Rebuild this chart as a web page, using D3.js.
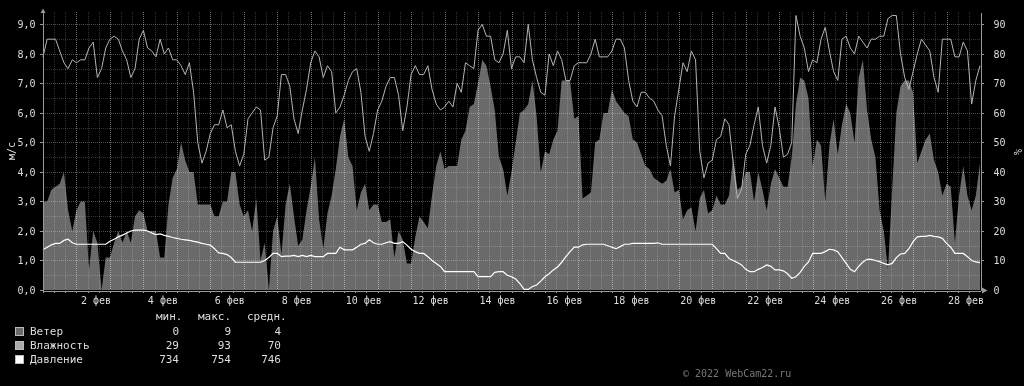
<!DOCTYPE html>
<html>
<head>
<meta charset="utf-8">
<script src="https://cdn.jsdelivr.net/npm/d3@7"></script>
<style>
  body { margin: 0; background: #000; }
  svg { display: block; font-family: "DejaVu Sans Mono", monospace; filter: grayscale(1); }
</style>
</head>
<body>
<div id="chart"></div>
<script>
// time range: one sample every 3 hours, 1 Feb .. 1 Mar
var start = new Date(2022, 1, 1),
    end = new Date(2022, 2, 1),
    stepHours = 3;

// wind, m/s
var wind = [
  3.0,3.0,3.4,3.5,3.6,4.0,2.7,2.0,2.7,3.0,
  3.0,0.7,2.0,1.6,0,1.1,1.1,1.6,2.0,1.6,
  2.0,1.6,2.5,2.7,2.6,2.0,2.0,2.0,1.1,1.1,
  2.9,3.8,4.1,5.0,4.4,4.0,4.0,2.9,2.9,2.9,
  2.9,2.5,2.5,3.0,3.0,4.0,4.0,2.9,2.5,2.7,
  2.0,3.1,1.0,1.6,0,2.0,2.5,1.2,2.9,3.6,
  2.5,1.5,1.7,2.7,3.5,4.5,2.4,1.4,2.6,3.2,
  4.1,5.2,5.8,4.5,4.2,2.7,3.3,3.6,2.7,2.9,
  2.9,2.3,2.3,2.4,1.1,2.0,1.7,0.9,0.9,1.8,
  2.5,2.3,2.1,3.2,4.2,4.7,4.1,4.2,4.2,4.2,
  5.1,5.4,6.2,6.3,7.0,7.8,7.6,6.9,6.1,4.5,
  4.1,3.2,4.0,5.0,6.0,6.1,6.3,7.1,5.9,4.0,
  4.7,4.6,5.1,5.4,7.1,7.1,7.1,5.8,5.9,3.1,
  3.2,3.3,5.0,5.1,6.0,6.0,6.8,6.4,6.2,6.0,
  5.9,5.1,5.0,4.6,4.2,4.1,3.8,3.7,3.6,3.7,
  4.1,3.3,3.4,2.4,2.7,2.8,2.0,3.1,3.4,2.6,
  2.7,3.2,2.9,2.9,3.2,4.5,3.4,3.5,4.0,4.0,
  3.0,4.0,3.4,2.7,3.6,4.1,3.8,3.5,3.5,4.5,
  6.3,7.2,7.1,6.5,4.2,5.1,4.9,3.0,4.9,5.8,
  4.6,5.6,6.3,6.0,5.0,7.2,7.8,6.1,5.1,4.5,
  2.7,2.0,0.7,3.4,6.0,6.9,7.1,7.1,6.7,4.3,
  4.7,5.1,5.3,4.4,4.0,3.2,3.6,3.5,1.6,3.2,
  4.2,3.2,2.7,3.2,4.3
];

// humidity, %
var humidity = [
  79,85,85,85,81,77,75,78,77,78,
  78,82,84,72,75,82,85,86,85,81,
  78,72,75,85,88,82,81,79,85,80,
  82,78,78,76,73,77,67,50,43,47,
  53,56,56,61,55,56,47,42,46,58,
  60,62,61,44,45,55,59,73,73,69,
  58,53,61,68,77,81,79,72,76,74,
  60,62,66,71,74,75,67,52,47,53,
  61,64,69,72,72,66,54,62,73,76,
  73,73,76,68,63,61,62,64,62,70,
  67,77,76,75,88,90,86,86,78,77,
  80,88,75,79,79,77,90,78,72,67,
  66,80,76,81,78,71,71,76,77,77,
  77,80,85,79,79,79,81,85,85,82,
  71,64,62,67,67,65,64,61,59,49,
  42,59,68,77,74,81,78,47,38,43,
  44,51,52,58,56,43,31,34,46,49,
  56,62,49,43,49,62,55,45,46,50,
  93,86,82,74,78,77,85,89,81,74,
  71,85,86,82,80,86,84,82,85,85,
  86,86,92,93,93,80,72,68,74,80,
  85,83,81,72,67,85,85,85,79,79,
  84,81,63,71,76
];

// pressure, mm Hg (drawn as (p - 734) / 10 on the left axis)
var pressure = [
  747.6,748.5,749.3,749.8,749.8,750.8,751.2,750.0,749.5,749.5,
  749.5,749.5,749.5,749.5,749.5,749.5,750.5,751.2,752.0,752.6,
  753.3,754.0,754.3,754.3,754.3,754.0,753.3,752.8,753.0,752.5,
  752.2,751.8,751.5,751.2,751.0,750.8,750.5,750.2,749.8,749.5,
  749.2,748.0,746.6,746.4,746.0,745.0,743.4,743.4,743.4,743.4,
  743.4,743.4,743.4,744.0,745.0,746.4,746.4,745.3,745.5,745.5,
  745.7,745.3,745.7,745.3,745.7,745.3,745.3,745.3,746.4,746.4,
  746.4,748.5,747.6,747.6,747.6,748.5,749.5,749.8,751.0,750.0,
  749.5,749.5,750.0,750.4,749.8,749.8,750.4,749.2,747.8,747.0,
  746.4,746.4,745.3,744.0,743.0,742.0,740.2,740.2,740.2,740.2,
  740.2,740.2,740.2,740.2,738.5,738.5,738.5,738.5,740.0,740.2,
  740.2,739.0,738.5,737.7,736.2,734.2,734.2,735.2,735.7,737.0,
  738.5,739.5,740.8,741.8,743.4,745.3,747.0,748.5,748.5,749.3,
  749.5,749.5,749.5,749.5,749.5,749.0,748.5,748.0,748.7,749.5,
  749.5,749.8,749.8,749.8,749.8,749.8,749.8,750.0,749.5,749.5,
  749.5,749.5,749.5,749.5,749.5,749.5,749.5,749.5,749.5,749.5,
  749.5,748.0,746.4,746.4,744.7,744.0,743.3,742.5,741.0,740.2,
  740.2,741.0,741.6,742.5,742.0,740.8,740.8,740.5,739.5,738.0,
  738.5,740.0,742.0,743.5,746.4,746.4,746.4,747.0,747.8,747.6,
  747.0,745.0,743.0,741.0,740.2,742.0,743.5,744.4,744.4,744.0,
  743.6,743.0,742.5,743.0,745.0,746.2,746.4,748.0,750.4,752.0,
  752.2,752.2,752.5,752.2,752.0,751.5,749.8,748.5,746.4,746.4,
  746.4,745.3,744.0,743.5,743.3
];

var labelDays = [2,4,6,8,10,12,14,16,18,20,22,24,26,28];
var monthName = "фев";
var leftTicks = [0,1,2,3,4,5,6,7,8,9];
var rightTicks = [0,10,20,30,40,50,60,70,80,90];

var seriesNames = ["Ветер", "Влажность", "Давление"];
var statHeaders = ["мин.", "макс.", "средн."];
var statMin = [0, 29, 734];
var statMax = [9, 93, 754];
var statAvg = [4, 70, 746];

var width = 1024, height = 386;
var plot = {left: 43, right: 980, top: 12, bottom: 290};
var yMax = 9.42;

var svg = d3.select("#chart")
  .append("svg")
    .attr("width", width)
    .attr("height", height);

svg.append("rect").attr("width", width).attr("height", height).attr("fill", "#000");

var times = wind.map(function(d, i) { return d3.timeHour.offset(start, i * stepHours); });

var x = d3.scaleTime().domain([start, end]).range([plot.left, plot.right]);
var y = d3.scaleLinear().domain([0, yMax]).range([plot.bottom, plot.top]);
var yHum = d3.scaleLinear().domain([0, yMax * 10]).range([plot.bottom, plot.top]);
var yPres = d3.scaleLinear().domain([734, 734 + yMax * 10]).range([plot.bottom, plot.top]);

// wind area
svg.append("path")
  .datum(wind)
  .attr("fill", "#6a6a6a")
  .attr("d", d3.area()
    .x(function(d, i) { return x(times[i]); })
    .y0(y(0))
    .y1(function(d) { return y(d); }));

// grid (drawn over the area, like the original)
var grid = svg.append("g").attr("shape-rendering", "crispEdges");
var minorX = d3.timeHour.every(8).range(start, end);
var majorX = d3.timeDay.range(start, end);

grid.selectAll(".vminor").data(minorX).enter().append("line")
  .attr("x1", function(d) { return Math.round(x(d)) + 0.5; })
  .attr("x2", function(d) { return Math.round(x(d)) + 0.5; })
  .attr("y1", plot.top).attr("y2", plot.bottom)
  .attr("stroke", "rgba(255,255,255,0.2)")
  .attr("stroke-dasharray", "1,1");

grid.selectAll(".vmajor").data(majorX).enter().append("line")
  .attr("x1", function(d) { return Math.round(x(d)) + 0.5; })
  .attr("x2", function(d) { return Math.round(x(d)) + 0.5; })
  .attr("y1", plot.top).attr("y2", plot.bottom)
  .attr("stroke", "rgba(255,255,255,0.3)")
  .attr("stroke-dasharray", "1,1");

grid.selectAll(".h").data(d3.range(0.5, 9.5, 0.5)).enter().append("line")
  .attr("x1", plot.left).attr("x2", plot.right)
  .attr("y1", function(d) { return Math.round(y(d)) + 0.5; })
  .attr("y2", function(d) { return Math.round(y(d)) + 0.5; })
  .attr("stroke", function(d) { return d % 1 === 0 ? "rgba(255,255,255,0.3)" : "rgba(255,255,255,0.2)"; })
  .attr("stroke-dasharray", "1,1");

// humidity line
svg.append("path")
  .datum(humidity)
  .attr("fill", "none")
  .attr("stroke", "#b4b4b4")
  .attr("stroke-width", 1)
  .attr("d", d3.line()
    .x(function(d, i) { return x(times[i]); })
    .y(function(d) { return yHum(d); }));

// pressure line
svg.append("path")
  .datum(pressure)
  .attr("fill", "none")
  .attr("stroke", "#fff")
  .attr("stroke-width", 1.2)
  .attr("d", d3.line()
    .x(function(d, i) { return x(times[i]); })
    .y(function(d) { return yPres(d); }));

// axes
var axisColor = "#999", textColor = "#ddd";
function styleAxis(g) {
  g.selectAll(".domain, line").attr("stroke", axisColor).attr("shape-rendering", "crispEdges");
  g.selectAll("text").attr("fill", textColor).attr("font-size", 10)
    .attr("font-family", "DejaVu Sans Mono, monospace");
}

svg.append("g")
  .attr("transform", "translate(" + (plot.left - 0.5) + ",0)")
  .call(d3.axisLeft(y).tickValues(leftTicks).tickSize(3).tickSizeOuter(0).tickPadding(4)
    .tickFormat(function(d) { return d3.format(".1f")(d).replace(".", ","); }))
  .call(styleAxis);

svg.append("g")
  .attr("transform", "translate(" + (plot.right + 0.5) + ",0)")
  .call(d3.axisRight(yHum).tickValues(rightTicks).tickSize(3).tickSizeOuter(0).tickPadding(10))
  .call(styleAxis);

svg.append("g")
  .attr("transform", "translate(0," + (plot.bottom + 0.5) + ")")
  .call(d3.axisBottom(x).tickValues(minorX).tickSize(2).tickSizeOuter(0).tickFormat(""))
  .call(styleAxis);

// x labels
svg.append("g")
  .selectAll("text").data(labelDays).enter().append("text")
  .attr("x", function(d) { return x(d3.timeHour.offset(new Date(2022, 1, d), 14)); })
  .attr("y", 303.5)
  .attr("text-anchor", "middle")
  .attr("font-size", 10)
  .attr("fill", textColor)
  .text(function(d) { return d + " " + monthName; });

// axis arrows
svg.append("path").attr("d", "M40.5,13L45.5,13L43,8.5Z").attr("fill", axisColor);
svg.append("path").attr("d", "M982,287.5L982,293.5L987.5,290.5Z").attr("fill", axisColor);

// axis titles
svg.append("text")
  .attr("transform", "translate(15,151) rotate(-90)")
  .attr("text-anchor", "middle").attr("font-size", 10).attr("fill", textColor)
  .text("м/с");
svg.append("text")
  .attr("transform", "translate(1014,152) rotate(90)")
  .attr("text-anchor", "middle").attr("font-size", 10).attr("fill", textColor)
  .text("%");

// legend
var legendColors = ["#6a6a6a", "#aaaaaa", "#ffffff"];
var legend = svg.append("g").attr("font-size", 11).attr("fill", textColor);
var headerX = [156, 198, 247];
legend.selectAll(".hdr").data(statHeaders).enter().append("text")
  .attr("x", function(d, i) { return headerX[i]; })
  .attr("y", 320)
  .text(function(d) { return d; });

var rows = legend.selectAll(".row").data(seriesNames).enter().append("g")
  .attr("transform", function(d, i) { return "translate(0," + (334.5 + i * 14) + ")"; });
rows.append("rect")
  .attr("x", 15.5).attr("y", -7.5).attr("width", 8).attr("height", 8)
  .attr("fill", function(d, i) { return legendColors[i]; })
  .attr("stroke", "#bbb").attr("stroke-width", 1)
  .attr("shape-rendering", "crispEdges");
rows.append("text").attr("x", 30).text(function(d) { return d; });
var statCols = [[statMin, 179], [statMax, 231], [statAvg, 281]];
statCols.forEach(function(c) {
  rows.append("text")
    .attr("x", c[1]).attr("text-anchor", "end")
    .text(function(d, i) { return c[0][i]; });
});

svg.append("text")
  .attr("x", 683).attr("y", 377)
  .attr("font-size", 10).attr("fill", "#777")
  .text("© 2022 WebCam22.ru");
</script>
</body>
</html>
